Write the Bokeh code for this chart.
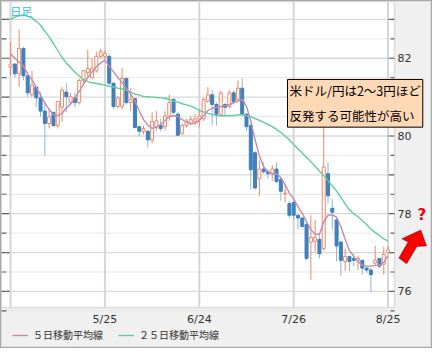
from bokeh.plotting import figure
from bokeh.models import (Range1d, Label, Legend, LegendItem, PolyAnnotation, BoxAnnotation,
                          ColumnDataSource)
from bokeh.core.properties import value
from bokeh.embed import file_html
from bokeh.resources import INLINE

# ---------------- data ----------------
x_tick_pos = [0, 22, 44, 66, 88]
x_tick_labels = ["", "5/25", "6/24", "7/26", "8/25"]
y_major = [76, 77, 78, 79, 80, 81, 82, 83]
y_minor = [75.5, 76.5, 77.5, 78.5, 79.5, 80.5, 81.5, 82.5]
y_label_vals = [76, 78, 80, 82]
y_label_text = ["76", "78", "80", "82"]

opens = [81.78, 81.85, 81.60, 82.25, 81.55, 81.06, 81.26, 80.98, 80.64, 80.32,
         80.61, 80.27, 80.74, 81.13, 80.86, 80.98, 80.86, 81.43, 81.63, 81.50,
         81.68, 82.05, 82.05, 82.05, 81.36, 80.76, 80.76, 81.48, 80.86, 80.96,
         80.24, 80.12, 80.12, 79.90, 80.24, 80.27, 80.24, 80.51, 80.94, 80.56,
         80.07, 80.27, 80.32, 80.37, 80.44, 80.44, 80.89, 81.06, 80.81, 80.56,
         80.81, 80.76, 81.11, 80.94, 81.23, 80.56, 80.27, 79.57, 78.90, 79.15,
         79.08, 79.03, 79.15, 78.88, 78.51, 78.26, 78.29, 77.96, 77.89, 77.72,
         77.27, 77.29, 77.34, 77.10, 79.03, 78.14, 77.84, 77.27, 76.77, 76.90,
         76.85, 76.80, 76.80, 76.60, 76.55, 76.73, 76.85, 76.70, 77.00]
highs = [82.42, 81.88, 82.74, 82.30, 81.55, 81.68, 81.26, 81.13, 80.89, 80.69,
         80.61, 80.89, 81.26, 81.36, 81.11, 81.11, 81.48, 81.68, 82.22, 82.00,
         82.17, 82.25, 82.20, 82.10, 81.36, 81.03, 81.75, 81.50, 81.23, 80.98,
         80.27, 80.27, 80.17, 80.61, 80.64, 80.44, 80.64, 81.06, 80.98, 80.61,
         80.32, 80.44, 80.51, 80.56, 80.69, 80.98, 81.26, 81.18, 80.86, 81.16,
         80.86, 81.18, 81.18, 81.43, 81.48, 80.59, 80.32, 79.62, 79.37, 79.32,
         79.15, 79.25, 79.32, 78.95, 78.78, 78.31, 78.34, 77.96, 77.91, 77.77,
         77.96, 77.84, 77.47, 80.24, 79.32, 78.38, 77.91, 77.29, 77.10, 76.92,
         76.97, 76.92, 76.80, 76.65, 76.60, 77.17, 76.85, 77.15, 77.17]
lows = [81.55, 81.50, 81.26, 81.43, 81.01, 81.01, 80.74, 80.49, 79.50, 80.19,
        80.24, 80.19, 80.37, 80.61, 80.81, 80.74, 80.81, 81.31, 81.48, 81.48,
        81.63, 82.00, 81.95, 81.31, 80.69, 80.71, 80.69, 80.81, 80.64, 80.19,
        79.99, 80.04, 79.70, 79.82, 80.14, 80.12, 80.14, 80.39, 80.56, 79.99,
        80.02, 80.22, 80.27, 80.29, 80.24, 80.39, 80.86, 80.27, 80.27, 80.51,
        80.51, 80.71, 80.81, 80.89, 80.51, 80.12, 78.63, 78.63, 78.46, 79.03,
        78.90, 78.83, 78.78, 78.34, 78.29, 77.89, 77.84, 77.59, 77.64, 76.80,
        76.30, 77.02, 76.85, 77.05, 78.26, 77.59, 76.77, 76.40, 76.53, 76.53,
        76.65, 76.55, 76.43, 76.48, 75.98, 76.68, 76.60, 76.43, 76.97]
closes = [81.85, 81.60, 82.25, 81.55, 81.11, 81.31, 80.98, 80.64, 80.32, 80.49,
          80.27, 80.89, 81.18, 81.01, 81.01, 80.86, 81.43, 81.68, 81.73, 81.73,
          82.05, 82.17, 82.12, 81.36, 80.76, 80.98, 81.48, 80.86, 80.94, 80.22,
          80.12, 80.19, 79.90, 80.37, 80.39, 80.19, 80.51, 80.86, 80.61, 80.02,
          80.27, 80.37, 80.42, 80.44, 80.51, 80.94, 81.06, 80.81, 80.56, 81.11,
          80.74, 81.11, 80.89, 81.23, 80.56, 80.24, 79.13, 78.66, 79.15, 79.08,
          79.03, 79.15, 78.83, 78.58, 78.53, 77.96, 77.96, 77.89, 77.67, 76.85,
          77.39, 77.39, 76.97, 79.20, 78.46, 78.04, 77.17, 76.80, 76.90, 76.77,
          76.80, 76.85, 76.60, 76.55, 76.43, 76.80, 76.65, 76.95, 77.07]
ma5 = [82.12, 82.00, 81.90, 81.80, 81.60, 81.45, 81.25, 81.05, 80.85, 80.68,
       80.55, 80.52, 80.58, 80.72, 80.82, 80.98, 81.15, 81.33, 81.50, 81.65,
       81.78, 81.88, 81.95, 81.80, 81.65, 81.50, 81.38, 81.22, 81.08, 80.90,
       80.65, 80.42, 80.28, 80.20, 80.22, 80.30, 80.40, 80.50, 80.52, 80.50,
       80.42, 80.36, 80.32, 80.32, 80.40, 80.52, 80.65, 80.72, 80.74, 80.76,
       80.78, 80.81, 80.86, 80.89, 80.94, 80.76, 80.39, 79.90, 79.50, 79.20,
       79.08, 79.03, 79.03, 78.93, 78.75, 78.53, 78.38, 78.18, 78.01, 77.79,
       77.59, 77.47, 77.47, 77.79, 77.96, 77.97, 77.91, 77.67, 77.34, 77.05,
       76.90, 76.77, 76.67, 76.65, 76.65, 76.67, 76.67, 76.75, 76.92]
ma25 = [83.00, 83.06, 83.10, 83.11, 83.08, 83.04, 82.95, 82.85, 82.70, 82.55,
        82.38, 82.20, 82.02, 81.88, 81.76, 81.64, 81.55, 81.46, 81.40, 81.37,
        81.35, 81.33, 81.31, 81.28, 81.26, 81.23, 81.21, 81.18, 81.13, 81.08,
        81.05, 81.02, 81.01, 81.00, 80.99, 80.98, 80.97, 80.94, 80.90, 80.87,
        80.83, 80.80, 80.77, 80.72, 80.66, 80.62, 80.58, 80.55, 80.53, 80.52,
        80.52, 80.52, 80.53, 80.54, 80.55, 80.52, 80.49, 80.45, 80.40, 80.35,
        80.30, 80.24, 80.17, 80.09, 80.00, 79.90, 79.78, 79.67, 79.56, 79.45,
        79.34, 79.22, 79.10, 78.98, 78.85, 78.72, 78.58, 78.42, 78.25, 78.10,
        78.00, 77.92, 77.82, 77.72, 77.60, 77.52, 77.44, 77.35, 77.30]
legend_labels = ["５日移動平均線", "２５日移動平均線"]
note_text = "米ドル/円は2〜3円ほど\n反発する可能性が高い"
corner_text = "日足"
mark_text = "?"

# ---------------- layout (canvas pixels -> data) ----------------
W, H = 432, 348
CX0, CX1, CY0, CY1 = 1, 394, 1, 307          # plot area in canvas pixels
I0, I1 = -2.109, 89.50                        # visible index range of plot area
P_TOP, P_BOT = 83.461, 75.586                 # visible price range of plot area
KX = (I1 - I0) / (CX1 - CX0)
KY = (P_TOP - P_BOT) / (CY1 - CY0)


def X(px):
    return I0 + (px - CX0) * KX


def Y(py):
    return P_TOP - (py - CY0) * KY


def RX(rx):   # reference-image pixel -> canvas pixel
    return CX0 + (rx - 3) * (CX1 - CX0) / 404.0


def RY(ry):
    return CY0 + (ry - 3) * (CY1 - CY0) / 318.0


UP = "#e8896c"
DOWN_BODY = "#3f80bd"
DOWN_WICK = "#8db5d9"
MA5_C = "#c98aaa"
MA25_C = "#5ccf9c"
JP = "Noto Sans CJK JP"
TICK_C = "#666666"

p = figure(width=W, height=H, output_backend="svg", toolbar_location=None, tools="",
           x_range=Range1d(X(0), X(W)), y_range=Range1d(Y(H), Y(0)),
           x_axis_type=None, y_axis_type=None, min_border=0)
p.background_fill_color = "#f0f0f0"
p.border_fill_color = "#f0f0f0"
p.outline_line_color = "#a8a8a8"
p.outline_line_width = 1.5

# plot area
p.add_layout(BoxAnnotation(left=I0, right=I1, bottom=P_BOT, top=P_TOP, fill_color="white",
                           fill_alpha=1, line_color="#a0a0a0", line_width=1.5, level="underlay"))

# grid lines
p.segment(x0=[I0] * len(y_minor), x1=[I1] * len(y_minor), y0=y_minor, y1=y_minor,
          line_color="#e6e6e6", line_width=1)
p.segment(x0=[I0] * len(y_major), x1=[I1] * len(y_major), y0=y_major, y1=y_major,
          line_color="#d9d9d9", line_width=1.3)
p.segment(x0=x_tick_pos, x1=x_tick_pos, y0=[P_BOT] * len(x_tick_pos), y1=[P_TOP] * len(x_tick_pos),
          line_color="#d6d6d6", line_width=2)

# tick marks (inward) left and right
p.segment(x0=[I0] * len(y_major), x1=[X(CX0 + 8)] * len(y_major), y0=y_major, y1=y_major,
          line_color=TICK_C, line_width=1.2)
p.segment(x0=[I0] * len(y_minor), x1=[X(CX0 + 5)] * len(y_minor), y0=y_minor, y1=y_minor,
          line_color=TICK_C, line_width=1.2)
p.segment(x0=[X(CX1 - 6)] * len(y_major), x1=[I1] * len(y_major), y0=y_major, y1=y_major,
          line_color=TICK_C, line_width=1.2)
p.segment(x0=[X(CX1 - 4)] * len(y_minor), x1=[I1] * len(y_minor), y0=y_minor, y1=y_minor,
          line_color=TICK_C, line_width=1.2)

# tick labels
p.text(x=[X(CX1 + 3)] * len(y_label_vals), y=y_label_vals, text=y_label_text,
       text_font=value("DejaVu Sans"), text_font_size="11px", text_color="#333333",
       text_align="left", text_baseline="middle")
xl = [(x, t) for x, t in zip(x_tick_pos, x_tick_labels) if t]
p.text(x=[a for a, b in xl], y=[Y(RY(333))] * len(xl), text=[b for a, b in xl],
       text_font=value("DejaVu Sans"), text_font_size="11px", text_color="#333333",
       text_align="center", text_baseline="middle")

# candles
idx = list(range(len(closes)))
up = [i for i in idx if closes[i] >= opens[i]]
dn = [i for i in idx if closes[i] < opens[i]]


def src(sel):
    return ColumnDataSource(dict(
        x=sel,
        top=[max(opens[i], closes[i]) for i in sel],
        bottom=[min(opens[i], closes[i]) for i in sel],
        high=[highs[i] for i in sel],
        low=[lows[i] for i in sel]))


su, sd = src(up), src(dn)
p.segment(x0="x", y0="low", x1="x", y1="high", source=sd, line_color=DOWN_WICK, line_width=1)
p.vbar(x="x", width=0.7, top="top", bottom="bottom", source=sd,
       fill_color=DOWN_BODY, line_color=DOWN_BODY, line_width=1)
p.segment(x0="x", y0="low", x1="x", y1="high", source=su, line_color=UP, line_width=1)
p.vbar(x="x", width=0.7, top="top", bottom="bottom", source=su,
       fill_color="white", line_color=UP, line_width=1)

r25 = p.line(idx, ma25, line_color=MA25_C, line_width=1.4)
r5 = p.line(idx, ma5, line_color=MA5_C, line_width=1.4)

legend = Legend(items=[LegendItem(label=legend_labels[0], renderers=[r5]),
                       LegendItem(label=legend_labels[1], renderers=[r25])],
                orientation="horizontal", location=(int(RX(15)), int(H - RY(350) - 7)),
                border_line_color=None, background_fill_alpha=0,
                label_text_font=JP, label_text_font_size="10px", label_text_color="#333333",
                glyph_width=16, glyph_height=12, label_standoff=5, spacing=15,
                padding=0, margin=0, label_height=12)
p.add_layout(legend)

# annotations
p.add_layout(Label(x=X(RX(12)), y=Y(RY(5)), text=corner_text, text_font=JP,
                   text_font_size="11px", text_color="#33bbee",
                   text_align="left", text_baseline="top"))
p.add_layout(Label(x=X(RX(297)), y=Y(RY(84)), text=note_text, text_font=JP,
                   text_font_size="12.5px", text_color="black", text_line_height=1.3,
                   text_align="left", text_baseline="top",
                   background_fill_color="#ffd9b5", border_line_color="black",
                   border_line_width=1, padding=2))
p.add_layout(Label(x=X(RX(435)), y=Y(RY(225)), text=mark_text, text_font="DejaVu Sans",
                   text_font_size="15px", text_font_style="bold", text_color="#ee0000",
                   text_align="center", text_baseline="middle"))
arrow_ref = [(411.5, 269.5), (421.0, 253.0), (414.5, 249.5), (434.0, 240.5),
             (440.0, 257.0), (430.0, 257.5), (419.5, 275.5)]
p.add_layout(PolyAnnotation(xs=[X(RX(a)) for a, b in arrow_ref],
                            ys=[Y(RY(b)) for a, b in arrow_ref],
                            fill_color="#ff0000", fill_alpha=1, line_color="black", line_width=1.2))

open("out.html", "w").write(file_html(p, INLINE))
